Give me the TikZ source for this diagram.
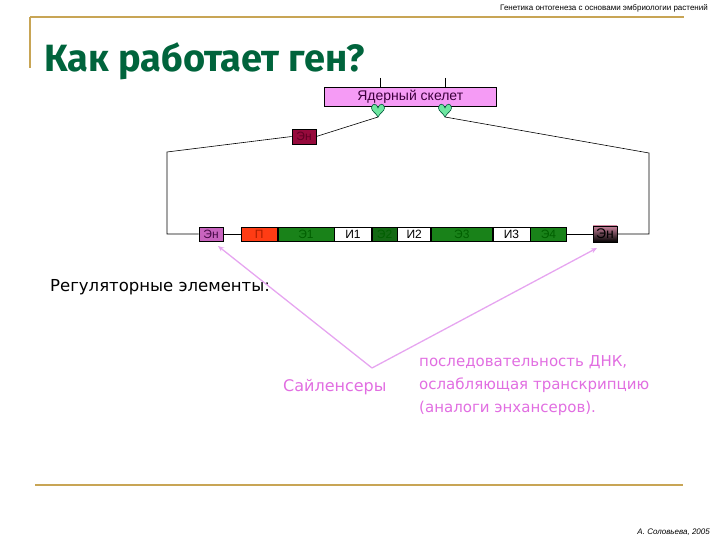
\documentclass[tikz,border=0pt]{standalone}
\usepackage{fontspec}
\setmainfont{Liberation Sans}
\newfontfamily\comic{DejaVu Sans}
\newfontfamily\ttl{Fira Sans}
\usetikzlibrary{arrows.meta}
\definecolor{gold}{RGB}{200,165,85}
\definecolor{titlegreen}{RGB}{0,100,60}
\definecolor{skel}{RGB}{245,155,245}
\definecolor{heartfill}{RGB}{110,230,160}
\definecolor{heartdraw}{RGB}{0,90,60}
\definecolor{midEnC}{RGB}{150,10,60}
\definecolor{leftEnC}{RGB}{200,100,190}
\definecolor{promC}{RGB}{255,60,20}
\definecolor{exonC}{RGB}{25,130,25}
\definecolor{exontext}{RGB}{0,95,0}
\definecolor{exon2C}{RGB}{20,105,20}
\definecolor{rightEnC}{RGB}{200,130,155}
\definecolor{pinkline}{RGB}{230,165,240}
\definecolor{pinktext}{RGB}{225,110,225}
\begin{document}
\begin{tikzpicture}[x=1pt,y=-1pt,
  goldline/.style={draw=gold,line width=2.5pt},
  seg/.style={draw=black,line width=0.6pt,inner sep=0pt,minimum height=14pt,anchor=west,font=\fontsize{12}{12}\selectfont},
  exon/.style={seg,fill=exonC,text=exontext},
  intron/.style={seg,fill=white,text=black},
  enbox/.style={draw=black,line width=0.6pt,inner sep=0pt,minimum height=14pt,minimum width=24pt,font=\fontsize{12}{12}\selectfont},
  conn/.style={draw=black,line width=0.6pt},
  pinkarrow/.style={draw=pinkline,line width=1.3pt,-{Stealth[length=6pt,width=5pt]}},
  pinklabel/.style={text=pinktext,font=\comic\fontsize{15}{23}\selectfont,inner sep=0pt}]
\useasboundingbox (0,0) rectangle (720,540);
% frame lines
\draw[goldline] (30,17) -- (684,17);
\draw[goldline] (30,17) -- (30,68);
\draw[goldline] (35,485) -- (683,485);
% header and footer
\node[anchor=east,inner sep=0pt,font=\fontsize{8}{8}\selectfont] (hdr) at (708,8) {Генетика онтогенеза с основами эмбриологии растений};
\node[anchor=east,inner sep=0pt,font=\itshape\fontsize{8}{8}\selectfont] (ftr) at (710,532) {А. Соловьева, 2005};
% title
\node[anchor=base west,inner sep=0pt,text=titlegreen,font=\ttl\bfseries\fontsize{38}{38}\selectfont] (title) at (44,72) {Как работает ген?};
% nuclear skeleton
\node[draw=black,line width=0.6pt,fill=skel,minimum width=172pt,minimum height=19pt,inner sep=0pt,anchor=north west,font=\fontsize{14}{14}\selectfont,text={rgb,255:red,60;green,0;blue,60}] (skel) at (324,87) {Ядерный скелет};
\draw[conn] (380,78) -- (380,87);
\draw[conn] (445,78) -- (445,87);
\coordinate (h1) at (378,117);
\coordinate (h2) at (445,117);
\foreach \c in {378,445}{
  \draw[fill=heartfill,draw=heartdraw,line width=0.6pt]
    (\c,108) .. controls (\c-1,103) and (\c-6.5,103) .. (\c-6.5,108)
    .. controls (\c-6.5,111) and (\c-2,113) .. (\c,117)
    .. controls (\c+2,113) and (\c+6.5,111) .. (\c+6.5,108)
    .. controls (\c+6.5,103) and (\c+1,103) .. (\c,108) -- cycle;
}
% enhancer middle
\node[enbox,fill=midEnC,text={rgb,255:red,95;green,0;blue,35},minimum height=15pt] (midEn) at (304,136.5) {Эн};
% gene strip
\node[enbox,fill=leftEnC,text={rgb,255:red,70;green,10;blue,70}] (leftEn) at (211,234) {Эн};
\node[seg,fill=promC,text={rgb,255:red,170;green,30;blue,0},minimum width=36pt] (P) at (241,234) {П};
\node[exon,minimum width=56pt] (E1) at (P.east) {Э1};
\node[intron,minimum width=37pt] (I1) at (E1.east) {И1};
\node[exon,fill=exon2C,minimum width=25pt] (E2) at (I1.east) {Э2};
\node[intron,minimum width=33pt] (I2) at (E2.east) {И2};
\node[exon,minimum width=61pt] (E3) at (I2.east) {Э3};
\node[intron,minimum width=37pt] (I3) at (E3.east) {И3};
\node[exon,minimum width=36pt] (E4) at (I3.east) {Э4};
\node[enbox,top color=rightEnC,bottom color=black,minimum height=16pt,font=\fontsize{14}{14}\selectfont] (rightEn) at (605,234) {Эн};
% connectors
\coordinate (cl1) at (167,152);
\coordinate (cl2) at (167,234);
\coordinate (cr1) at (649,153);
\coordinate (cr2) at (649,234);
\draw[conn] (h1) -- (midEn.east);
\draw[conn] (midEn.west) -- (cl1) -- (cl2) -- (leftEn.west);
\draw[conn] (leftEn.east) -- (P.west);
\draw[conn] (E4.east) -- (rightEn.west);
\draw[conn] (rightEn.east) -- (cr2) -- (cr1) -- (h2);
% regulatory text
\node[anchor=west,inner sep=0pt,font=\comic\fontsize{16.5}{16.5}\selectfont] (reg) at (50,287) {Регуляторные элементы:};
% pink arrows
\coordinate (v) at (372,368);
\coordinate (t1) at (218,246);
\coordinate (t2) at (597,248);
\draw[pinkarrow] (v) -- (t1);
\draw[pinkarrow] (v) -- (t2);
\node[pinklabel,anchor=west,font=\comic\fontsize{16}{16}\selectfont] (sil) at (283,387) {Сайленсеры};
\node[pinklabel,anchor=north west,align=left] (desc) at (419,355) {последовательность ДНК,\\ослабляющая транскрипцию\\(аналоги энхансеров).};
\end{tikzpicture}
\end{document}
